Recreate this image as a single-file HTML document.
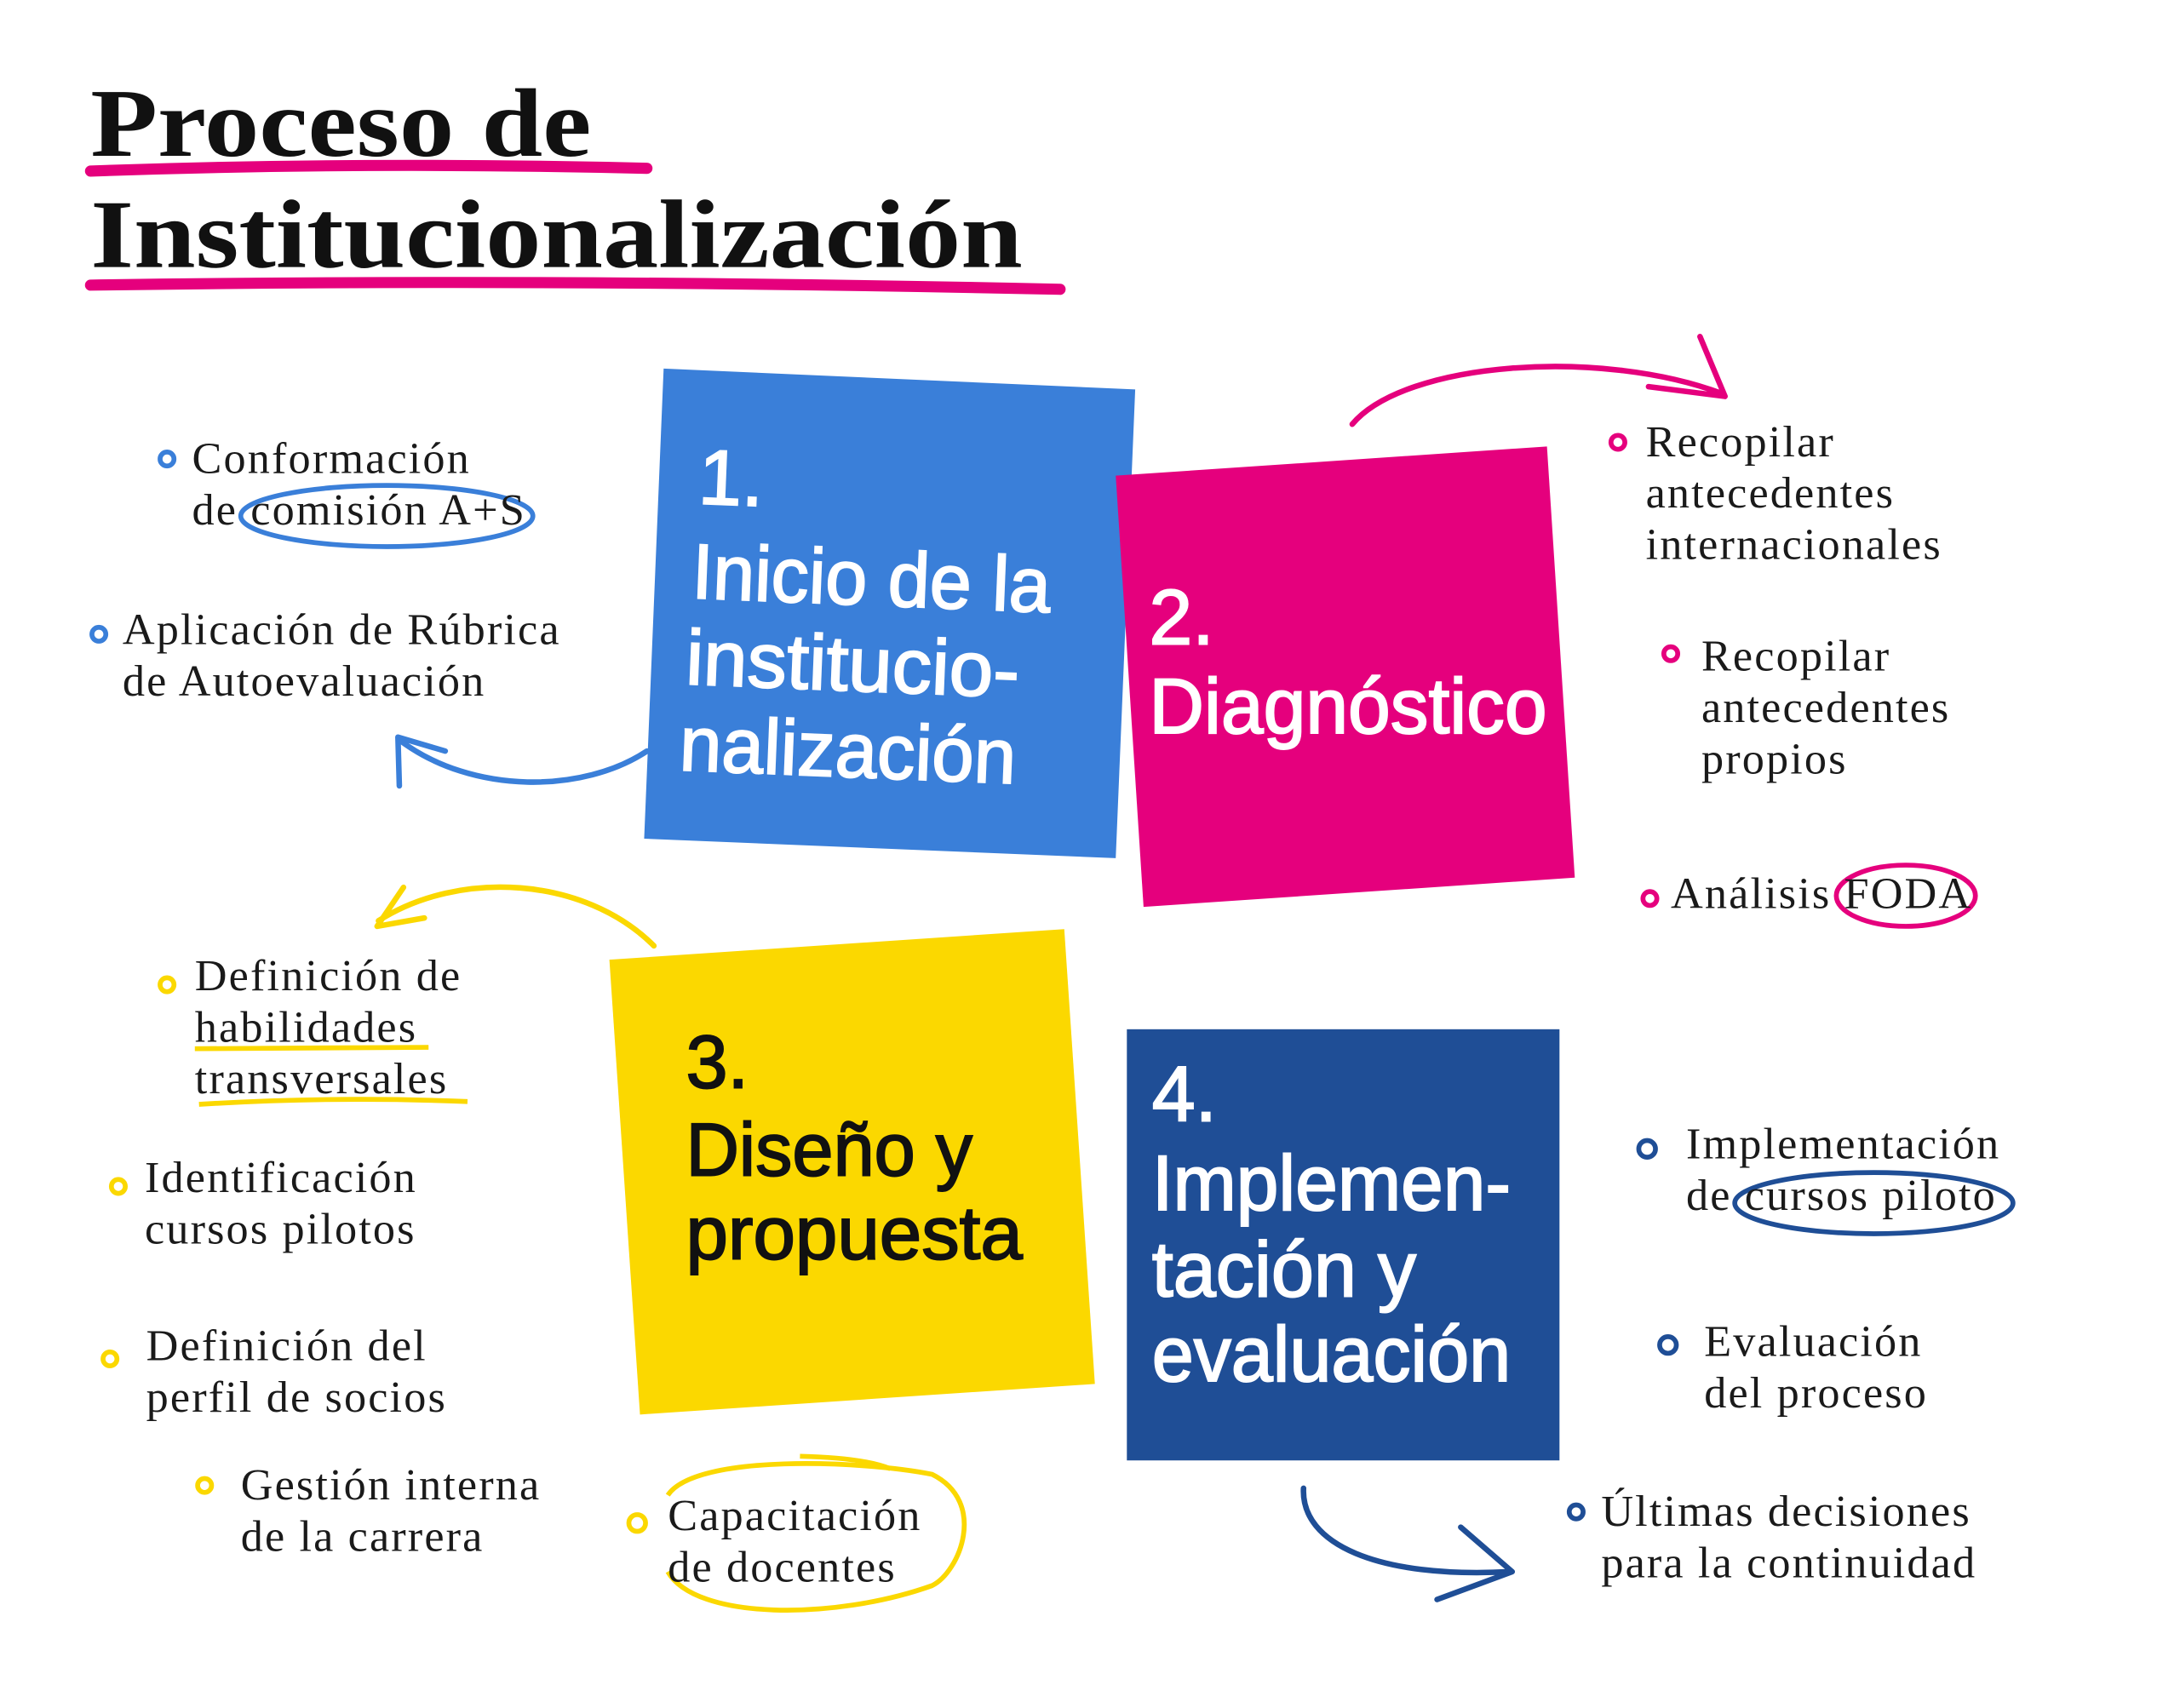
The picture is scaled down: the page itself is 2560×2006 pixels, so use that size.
<!DOCTYPE html>
<html><head><meta charset="utf-8"><style>
html,body{margin:0;padding:0;background:#fff;}
svg{display:block;}
.b{font-family:"Liberation Serif","DejaVu Serif",serif;font-size:32px;letter-spacing:1.3px;fill:#1a1a1a;}
.bx{font-family:"Liberation Sans","DejaVu Sans",sans-serif;}
</style></head><body>
<svg width="2560" height="2006" viewBox="0 0 1567 1228" xmlns="http://www.w3.org/2000/svg">
<rect width="1567" height="1228" fill="#fff"/>
<!-- title -->
<g font-family="'Liberation Serif','DejaVu Serif',serif" font-weight="bold" fill="#111">
<text x="65" y="112" font-size="70" textLength="360" lengthAdjust="spacingAndGlyphs">Proceso de</text>
<text x="65" y="192" font-size="70" textLength="670" lengthAdjust="spacingAndGlyphs">Institucionalización</text>
</g>
<path d="M65,123 Q260,116 465,121" stroke="#E5007D" stroke-width="8" fill="none" stroke-linecap="round"/>
<path d="M65,205 Q400,200 762,208" stroke="#E5007D" stroke-width="8" fill="none" stroke-linecap="round"/>
<!-- boxes -->
<polygon points="477,265 816,280 802,617 463,603" fill="#3A7FD9"/>
<polygon points="802,342 1112,321 1132,631 822,652" fill="#E5007D"/>
<polygon points="438,690 765,668 787,995 460,1017" fill="#FBD800"/>
<rect x="810" y="740" width="311" height="310" fill="#1F4E96"/>
<g class="bx" fill="#fff" stroke="#fff" stroke-width="1.2" font-size="56">
<g transform="rotate(2.3 500 400)">
<text x="500" y="362">1.</text>
<text x="498" y="430" textLength="258" lengthAdjust="spacingAndGlyphs">Inicio de la</text>
<text x="496" y="492" textLength="240" lengthAdjust="spacingAndGlyphs">institucio-</text>
<text x="494" y="554" textLength="242" lengthAdjust="spacingAndGlyphs">nalización</text>
</g>
<text x="826" y="463">2.</text>
<text x="826" y="527" textLength="286" lengthAdjust="spacingAndGlyphs">Diagnóstico</text>
<text x="828" y="806">4.</text>
<text x="828" y="870" textLength="258" lengthAdjust="spacingAndGlyphs">Implemen-</text>
<text x="828" y="932" textLength="190" lengthAdjust="spacingAndGlyphs">tación y</text>
<text x="828" y="993" textLength="258" lengthAdjust="spacingAndGlyphs">evaluación</text>
</g>
<g class="bx" fill="#111" stroke="#111" stroke-width="1.2" font-size="54">
<text x="493" y="782">3.</text>
<text x="493" y="845" textLength="206" lengthAdjust="spacingAndGlyphs">Diseño y</text>
<text x="493" y="905" textLength="242" lengthAdjust="spacingAndGlyphs">propuesta</text>
</g>
<!-- arrows -->
<g fill="none" stroke-width="4" stroke-linecap="round" stroke-linejoin="round">
<path d="M465,540 C420,570 340,572 287,532 M320,540 L286,530 L287,565" stroke="#3A7FD9"/>
<path d="M972,305 C1010,260 1150,250 1238,283 M1222,242 L1240,285 L1185,278" stroke="#E5007D"/>
<path d="M470,680 C420,630 330,625 272,662 M290,638 L271,666 L305,660" stroke="#FBD800"/>
<path d="M937,1070 C935,1110 990,1135 1085,1130 M1050,1098 L1087,1130 L1033,1150" stroke="#1F4E96"/>
</g>
<!-- highlights -->
<g fill="none" stroke-width="3.5">
<ellipse cx="278" cy="371" rx="105" ry="22" stroke="#3A7FD9"/>
<ellipse cx="1370" cy="644" rx="50" ry="22" stroke="#E5007D"/>
<ellipse cx="1347" cy="865" rx="100" ry="22" stroke="#1F4E96"/>
<path d="M480,1075 C500,1045 620,1050 670,1060 C710,1080 690,1130 670,1140 C600,1165 500,1165 480,1130" stroke="#FBD800"/>
<path d="M575,1047 Q620,1048 640,1056" stroke="#FBD800"/>
<path d="M140,754 L308,753" stroke="#FBD800"/>
<path d="M143,794 Q240,788 336,792" stroke="#FBD800"/>
</g>
<!-- bullets -->
<g fill="none" stroke-width="3.5">
<circle cx="120" cy="330" r="5" stroke="#3A7FD9"/>
<circle cx="71" cy="456" r="5" stroke="#3A7FD9"/>
<circle cx="1163" cy="318" r="5" stroke="#E5007D"/>
<circle cx="1201" cy="470" r="5" stroke="#E5007D"/>
<circle cx="1186" cy="646" r="5" stroke="#E5007D"/>
<circle cx="120" cy="708" r="5" stroke="#FBD800"/>
<circle cx="85" cy="853" r="5" stroke="#FBD800"/>
<circle cx="79" cy="977" r="5" stroke="#FBD800"/>
<circle cx="147" cy="1068" r="5" stroke="#FBD800"/>
<circle cx="458" cy="1095" r="6" stroke="#FBD800"/>
<circle cx="1184" cy="826" r="6" stroke="#1F4E96"/>
<circle cx="1199" cy="967" r="6" stroke="#1F4E96"/>
<circle cx="1133" cy="1087" r="5" stroke="#1F4E96"/>
</g>
<!-- bullet text -->
<g class="b">
<text x="138" y="340">Conformación</text>
<text x="138" y="377">de comisión A+S</text>
<text x="88" y="463">Aplicación de Rúbrica</text>
<text x="88" y="500">de Autoevaluación</text>
<text x="1183" y="328">Recopilar</text>
<text x="1183" y="365">antecedentes</text>
<text x="1183" y="402">internacionales</text>
<text x="1223" y="482">Recopilar</text>
<text x="1223" y="519">antecedentes</text>
<text x="1223" y="556">propios</text>
<text x="1201" y="653">Análisis FODA</text>
<text x="140" y="712">Definición de</text>
<text x="140" y="749">habilidades</text>
<text x="140" y="786">transversales</text>
<text x="104" y="857">Identificación</text>
<text x="104" y="894">cursos pilotos</text>
<text x="105" y="978">Definición del</text>
<text x="105" y="1015">perfil de socios</text>
<text x="173" y="1078">Gestión interna</text>
<text x="173" y="1115">de la carrera</text>
<text x="480" y="1100">Capacitación</text>
<text x="480" y="1137">de docentes</text>
<text x="1212" y="833">Implementación</text>
<text x="1212" y="870">de cursos piloto</text>
<text x="1225" y="975">Evaluación</text>
<text x="1225" y="1012">del proceso</text>
<text x="1151" y="1097">Últimas decisiones</text>
<text x="1151" y="1134">para la continuidad</text>
</g>
</svg>
</body></html>
